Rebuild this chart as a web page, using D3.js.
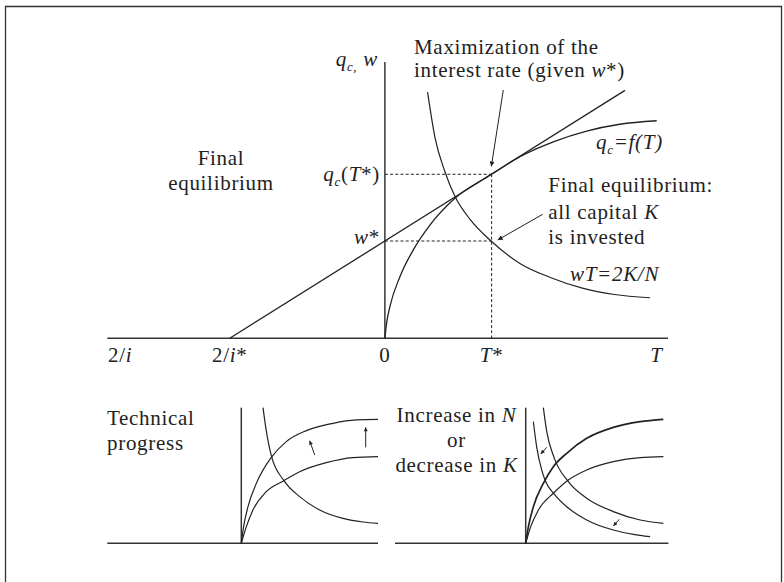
<!DOCTYPE html>
<html><head><meta charset="utf-8">
<script src="https://cdn.jsdelivr.net/npm/d3@7"></script>
<style>
body{margin:0;background:#fff}
svg{display:block}
text{font-family:"Liberation Serif","Times New Roman",serif;fill:#222;letter-spacing:0.7px}
</style>
</head><body>
<svg id="c" width="784" height="582"></svg>
<script>
// ---------- DATA ----------
// Main panel: T in units of T*, q/w in units of w*
const mainXDomain = [-2.6, 2.652];
const mainYDomain = [0, 2.84];
const xTickVals   = [-2.48, -1.453, 0, 1, 2.544];
const xTickLabels = [[["2/",0],["i",1]], [["2/",0],["i",1],["*",0]], [["0",0]], [["T",1],["*",0]], [["T",1]]];
const Tstar = 1, wStar = 1, qStar = 1.686;
const qcCurve = [[0,0],[0.016,0.154],[0.047,0.325],[0.141,0.633],[0.265,0.907],[0.422,1.164],[0.656,1.439],[1.0,1.686],[1.265,1.867],[1.578,2.02],[1.89,2.13],[2.2,2.2],[2.546,2.236]];
const hyperMain = [[0.40,2.53],[0.47,2.06],[0.56,1.72],[0.656,1.46],[0.80,1.22],[1.0,0.995],[1.265,0.77],[1.55,0.625],[1.85,0.515],[2.15,0.45],[2.484,0.417]];
const tangentLine = [[-1.453,0],[2.249,2.548]];
// Bottom-left panel (technical progress)
const lpXDomain = [-0.98, 1.0];
const lpUpper = [[0,0],[0.017,0.123],[0.049,0.27],[0.11,0.442],[0.22,0.634],[0.329,0.75],[0.476,0.831],[0.671,0.885],[0.841,0.91],[1.0,0.914]];
const lpLower = [[0,0],[0.037,0.123],[0.085,0.246],[0.183,0.381],[0.312,0.462],[0.427,0.528],[0.622,0.595],[0.817,0.632],[1.0,0.639]];
const lpHyper = [[0.159,1.0],[0.178,0.86],[0.22,0.644],[0.312,0.462],[0.427,0.344],[0.573,0.246],[0.744,0.184],[0.89,0.157],[1.0,0.147]];
const lpArrows = [[[0.537,0.651],[0.5,0.757]],[[0.91,0.708],[0.91,0.855]]];
// Bottom-right panel (increase in N or decrease in K)
const rpXDomain = [-0.956, 1.044];
const rpUpper = [[0,0],[0.02,0.123],[0.056,0.27],[0.129,0.442],[0.202,0.565],[0.3,0.664],[0.446,0.774],[0.641,0.855],[0.837,0.897],[1.007,0.914]];
const rpLower = [[0,0],[0.037,0.123],[0.093,0.246],[0.202,0.369],[0.312,0.467],[0.446,0.541],[0.641,0.602],[0.837,0.632],[1.007,0.639]];
const rpHyperOuter = [[0.129,1.0],[0.154,0.823],[0.207,0.634],[0.312,0.455],[0.446,0.332],[0.641,0.234],[0.837,0.172],[1.007,0.147]];
const rpHyperInner = [[0.056,0.897],[0.08,0.713],[0.117,0.541],[0.141,0.467],[0.215,0.356],[0.3,0.27],[0.446,0.172],[0.641,0.098],[0.788,0.066],[0.91,0.049]];
const rpArrows = [[[0.154,0.708],[0.11,0.659]],[[0.685,0.177],[0.641,0.128]]];

// ---------- DRAWING ----------
const svg = d3.select("#c");
const ink = "#222";
const FS = 21;

const defs = svg.append("defs");
defs.append("marker").attr("id","ah").attr("viewBox","0 0 10 10").attr("refX",10).attr("refY",5)
  .attr("markerWidth",7).attr("markerHeight",5).attr("markerUnits","userSpaceOnUse").attr("orient","auto")
  .append("path").attr("d","M0,0 L10,5 L0,10 z").attr("fill",ink);
defs.append("marker").attr("id","ahs").attr("viewBox","0 0 10 10").attr("refX",10).attr("refY",5)
  .attr("markerWidth",5).attr("markerHeight",4).attr("markerUnits","userSpaceOnUse").attr("orient","auto")
  .append("path").attr("d","M0,0 L10,5 L0,10 z").attr("fill",ink);

// frame
svg.append("path").attr("d","M5.5,582 V6.5 H781.5 V582").attr("fill","none").attr("stroke","#333").attr("stroke-width",1.3);

function rich(g, x, y, segs, anchor, size){
  const t = g.append("text").attr("x",x).attr("y",y).attr("text-anchor",anchor||"start").attr("font-size",size||FS);
  let sub=false;
  segs.forEach(s=>{
    const ts = t.append("tspan").text(s[0]);
    if(s[1]) ts.attr("font-style","italic");
    if(s[2] && !sub){ ts.attr("dy",5).attr("font-size",(size||FS)*0.62); sub=true; }
    else if(!s[2] && sub){ ts.attr("dy",-5); sub=false; }
  });
  return t;
}

// ---- main panel
const x = d3.scaleLinear().domain(mainXDomain).range([107.3,668]);
const y = d3.scaleLinear().domain(mainYDomain).range([338.3,62]);
const gm = svg.append("g");
const line = d3.line().x(d=>x(d[0])).y(d=>y(d[1])).curve(d3.curveMonotoneX);

// axes
gm.append("line").attr("x1",x(mainXDomain[0])).attr("x2",x(mainXDomain[1])).attr("y1",y(0)).attr("y2",y(0)).attr("stroke","#333").attr("stroke-width",1.6);
gm.append("line").attr("x1",x(0)).attr("x2",x(0)).attr("y1",y(0)).attr("y2",y(mainYDomain[1])).attr("stroke","#444").attr("stroke-width",1.6);

// dashed guides
const dash = "3,2.2";
gm.append("line").attr("x1",x(0)).attr("x2",x(Tstar)).attr("y1",y(qStar)).attr("y2",y(qStar)).attr("stroke",ink).attr("stroke-width",1).attr("stroke-dasharray",dash);
gm.append("line").attr("x1",x(0)).attr("x2",x(Tstar)).attr("y1",y(wStar)).attr("y2",y(wStar)).attr("stroke",ink).attr("stroke-width",1).attr("stroke-dasharray",dash);
gm.append("line").attr("x1",x(Tstar)).attr("x2",x(Tstar)).attr("y1",y(qStar)).attr("y2",y(0)).attr("stroke",ink).attr("stroke-width",1).attr("stroke-dasharray",dash);

// curves
gm.append("path").attr("d",line(tangentLine)).attr("fill","none").attr("stroke",ink).attr("stroke-width",1.3);
gm.append("path").attr("d",line(qcCurve)).attr("fill","none").attr("stroke",ink).attr("stroke-width",1.3);
gm.append("path").attr("d",line(hyperMain)).attr("fill","none").attr("stroke",ink).attr("stroke-width",1.2);

// pointer arrows
gm.append("line").attr("x1",503.3).attr("y1",90).attr("x2",491.3).attr("y2",166.5).attr("stroke",ink).attr("stroke-width",1).attr("marker-end","url(#ah)");
gm.append("line").attr("x1",542.7).attr("y1",214.3).attr("x2",497.7).attr("y2",240).attr("stroke",ink).attr("stroke-width",1).attr("marker-end","url(#ah)");

// x tick labels
xTickVals.forEach((v,i)=>{
  rich(gm, x(v), 362, xTickLabels[i], "middle");
});
// y labels
rich(gm, 380, 181, [["q",1],["c",1,1],["(",0],["T",1],["*)",0]], "end");
rich(gm, 380, 244, [["w",1],["*",0]], "end");
rich(gm, 378, 66, [["q",1],["c,",1,1],[" w",1]], "end");

// annotations
rich(gm, 414, 54, [["Maximization of the",0]]);
rich(gm, 414, 77, [["interest rate (given ",0],["w",1],["*)",0]]);
rich(gm, 221, 165, [["Final",0]], "middle");
rich(gm, 221, 190, [["equilibrium",0]], "middle");
rich(gm, 596, 149, [["q",1],["c",1,1],["=f(T)",1]]);
rich(gm, 548.3, 192, [["Final equilibrium:",0]]);
rich(gm, 548.3, 219, [["all capital ",0],["K",1]]);
rich(gm, 548.3, 244, [["is invested",0]]);
rich(gm, 570, 281, [["wT=2K/N",1]]);

// ---- bottom panels
function panel(xd, originX, upper, lower, hypers, arrows, thickUpper){
  const px = d3.scaleLinear().domain([0,1]).range([originX, originX+136.7]);
  const py = d3.scaleLinear().domain([0,1]).range([543.3,407.7]);
  const g = svg.append("g");
  const ln = d3.line().x(d=>px(d[0])).y(d=>py(d[1])).curve(d3.curveMonotoneX);
  g.append("line").attr("x1",px(xd[0])).attr("x2",px(xd[1])).attr("y1",py(0)).attr("y2",py(0)).attr("stroke","#333").attr("stroke-width",1.6);
  g.append("line").attr("x1",px(0)).attr("x2",px(0)).attr("y1",py(0)).attr("y2",py(1)).attr("stroke","#333").attr("stroke-width",1.5);
  g.append("path").attr("d",ln(upper)).attr("fill","none").attr("stroke",ink).attr("stroke-width",thickUpper?1.7:1.2);
  g.append("path").attr("d",ln(lower)).attr("fill","none").attr("stroke",ink).attr("stroke-width",1.2);
  hypers.forEach(h=>g.append("path").attr("d",ln(h)).attr("fill","none").attr("stroke",ink).attr("stroke-width",1.2));
  arrows.forEach(a=>g.append("line").attr("x1",px(a[0][0])).attr("y1",py(a[0][1])).attr("x2",px(a[1][0])).attr("y2",py(a[1][1]))
     .attr("stroke",ink).attr("stroke-width",1).attr("marker-end","url(#ahs)"));
  return g;
}
const gl = panel(lpXDomain, 241.3, lpUpper, lpLower, [lpHyper], lpArrows, false);
const gr = panel(rpXDomain, 525.7, rpUpper, rpLower, [rpHyperOuter, rpHyperInner], rpArrows, true);

rich(gl, 107, 425, [["Technical",0]]);
rich(gl, 107, 450, [["progress",0]]);
rich(gr, 456.5, 422, [["Increase in ",0],["N",1]], "middle");
rich(gr, 456.5, 447, [["or",0]], "middle");
rich(gr, 456.5, 472, [["decrease in ",0],["K",1]], "middle");
</script>
</body></html>
